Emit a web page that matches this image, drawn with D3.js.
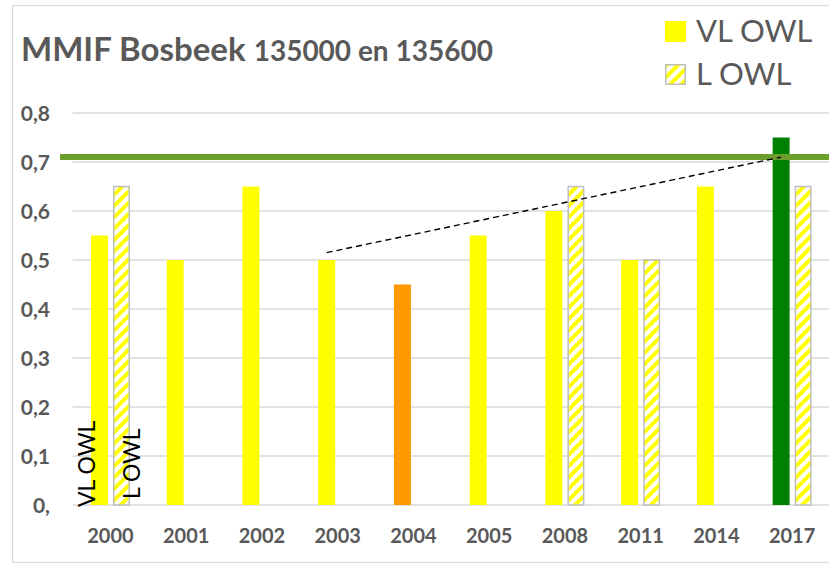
<!DOCTYPE html>
<html>
<head>
<meta charset="utf-8">
<script src="https://cdn.jsdelivr.net/npm/d3@7"></script>
<style>
  body { margin: 0; background: #fff; }
  svg text { font-family: Lato, "Open Sans", sans-serif; }
</style>
</head>
<body>
<div id="chart"></div>
<script>
// ── Data ─────────────────────────────────────────────────────
const years = ['2000', '2001', '2002', '2003', '2004', '2005', '2008', '2011', '2014', '2017'];
const vlOwl = [0.55, 0.50, 0.65, 0.50, 0.45, 0.55, 0.60, 0.50, 0.65, 0.75];
const lOwl  = [0.65, null, null, null, null, null, 0.65, 0.50, null, 0.65];
const vlColors = ['#ffff00', '#ffff00', '#ffff00', '#ffff00', '#ff9900', '#ffff00', '#ffff00', '#ffff00', '#ffff00', '#008000'];
const yTicks = [0, 0.1, 0.2, 0.3, 0.4, 0.5, 0.6, 0.7, 0.8];
const goal = 0.71;
const trend = [{ year: '2003', v: 0.515 }, { year: '2017', v: 0.71 }];

// ── Layout ───────────────────────────────────────────────────
const W = 829, H = 565;
const plot = { left: 72.6, right: 830, top: 113, bottom: 505 };

const svg = d3.select('#chart').append('svg')
  .attr('width', W).attr('height', H);

const defs = svg.append('defs');
const hatch = defs.append('pattern')
  .attr('id', 'hatch')
  .attr('patternUnits', 'userSpaceOnUse')
  .attr('width', 8).attr('height', 8)
  .attr('patternTransform', 'rotate(45)');
hatch.append('rect').attr('width', 8).attr('height', 8).attr('fill', '#fff');
hatch.append('rect').attr('width', 4).attr('height', 8).attr('fill', '#ffff00');

// outer frame
svg.append('rect')
  .attr('x', 12.5).attr('y', 5.5)
  .attr('width', 840).attr('height', 557)
  .attr('fill', 'none').attr('stroke', '#d9d9d9').attr('stroke-width', 1.2);

const x0 = d3.scaleBand().domain(years)
  .range([plot.left, plot.right])
  .paddingInner(0.485).paddingOuter(0.2425);
const x1 = d3.scaleBand().domain(['VL', 'L'])
  .range([0, x0.bandwidth()]).paddingInner(0.23);
const y = d3.scaleLinear().domain([0, 0.8]).range([plot.bottom, plot.top]);

// gridlines
svg.append('g').selectAll('line').data(yTicks).join('line')
  .attr('x1', plot.left).attr('x2', W)
  .attr('y1', d => y(d)).attr('y2', d => y(d))
  .attr('stroke', '#d9d9d9').attr('stroke-width', 1.5);

// y axis labels
const fmt = d => d === 0 ? '0,' : d3.format('.1f')(d).replace('.', ',');
svg.append('g').selectAll('text').data(yTicks).join('text')
  .attr('x', 50).attr('y', d => y(d))
  .attr('dy', '0.36em')
  .attr('text-anchor', 'end')
  .attr('font-size', 21).attr('font-weight', 'bold').attr('fill', '#595959')
  .text(fmt);

// x axis labels
svg.append('g').selectAll('text').data(years).join('text')
  .attr('x', d => x0(d) + x0.bandwidth() / 2).attr('y', 543)
  .attr('text-anchor', 'middle')
  .attr('font-size', 20).attr('font-weight', 'bold').attr('fill', '#595959')
  .text(d => d);

// bars
const groups = svg.append('g').selectAll('g').data(years).join('g')
  .attr('transform', d => `translate(${x0(d)},0)`);

groups.append('rect')
  .attr('x', x1('VL')).attr('width', x1.bandwidth())
  .attr('y', (d, i) => y(vlOwl[i]))
  .attr('height', (d, i) => y(0) - y(vlOwl[i]))
  .attr('fill', (d, i) => vlColors[i]);

groups.filter((d, i) => lOwl[i] != null).append('rect')
  .attr('x', x1('L') + 0.75).attr('width', x1.bandwidth() - 1.5)
  .attr('y', d => y(lOwl[years.indexOf(d)]))
  .attr('height', d => y(0) - y(lOwl[years.indexOf(d)]))
  .attr('fill', 'url(#hatch)')
  .attr('stroke', '#bfbfbf').attr('stroke-width', 1.5);

// goal line
svg.append('line')
  .attr('x1', 60).attr('x2', W)
  .attr('y1', y(goal)).attr('y2', y(goal))
  .attr('stroke', '#6b9e2a').attr('stroke-width', 6);

// dashed trend line
const trendX = d => x0(d.year) + x1('VL') + x1.bandwidth() / 2;
svg.append('path')
  .attr('d', d3.line().x(trendX).y(d => y(d.v))(trend))
  .attr('fill', 'none').attr('stroke', '#000')
  .attr('stroke-width', 1.4).attr('stroke-dasharray', '6,4');

// rotated series labels in the 2000 group
const lab = [
  { s: 'VL', text: 'VL OWL', bottom: -0.004, shift: -13 },
  { s: 'L', text: 'L OWL', bottom: 0.012, shift: 10 }
];
svg.append('g').selectAll('text').data(lab).join('text')
  .attr('transform', d => {
    const cx = x0('2000') + x1(d.s) + x1.bandwidth() / 2 + d.shift;
    return `translate(${cx},${y(d.bottom)}) rotate(-90)`;
  })
  .attr('dy', '0.36em')
  .attr('font-size', 23).attr('fill', '#000')
  .text(d => d.text);

// title
const title = svg.append('text').attr('x', 21).attr('y', 61)
  .attr('font-weight', 'bold').attr('fill', '#595959');
title.append('tspan').attr('font-size', 33).text('MMIF Bosbeek ');
title.append('tspan').attr('font-size', 28).text('135000 en 135600');

// legend
const legend = svg.append('g').attr('transform', 'translate(665,21)');
const legItems = [
  { text: 'VL OWL', fill: '#ffff00', stroke: 'none' },
  { text: 'L OWL', fill: 'url(#hatch)', stroke: '#bfbfbf' }
];
const li = legend.selectAll('g').data(legItems).join('g')
  .attr('transform', (d, i) => `translate(0,${i * 43})`);
li.append('rect')
  .attr('x', d => d.stroke === 'none' ? 0 : 0.75)
  .attr('y', d => d.stroke === 'none' ? 0 : 0.75)
  .attr('width', d => d.stroke === 'none' ? 21 : 19.5)
  .attr('height', d => d.stroke === 'none' ? 21 : 19.5)
  .attr('fill', d => d.fill).attr('stroke', d => d.stroke).attr('stroke-width', 1.5);
li.append('text')
  .attr('x', 31).attr('y', 20.5)
  .attr('font-size', 31).attr('fill', '#595959')
  .text(d => d.text);
</script>
</body>
</html>
